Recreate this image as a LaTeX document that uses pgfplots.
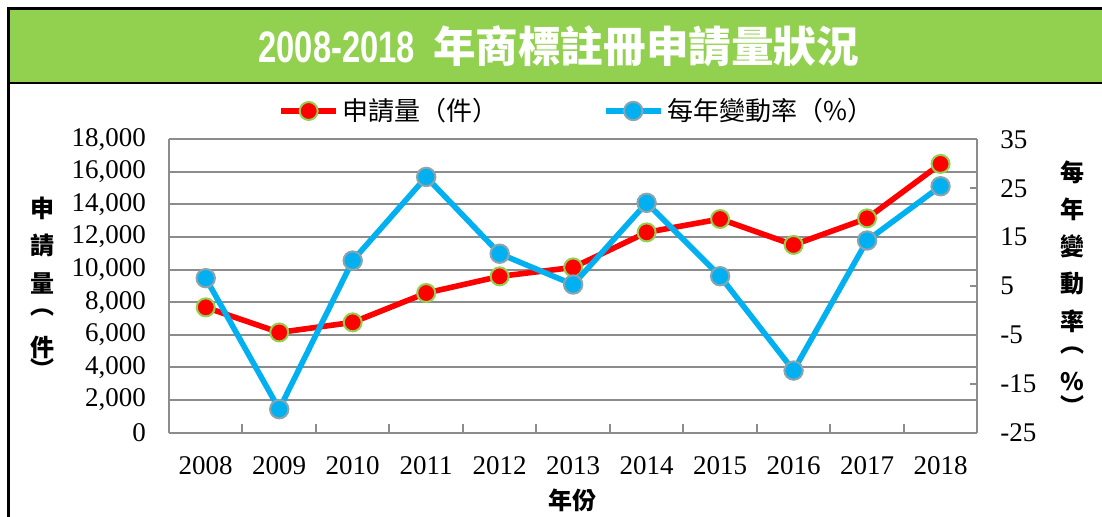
\documentclass[border=0pt]{standalone}
\usepackage{pgfplots}
\pgfplotsset{compat=1.18}
\usepackage{pgfplotstable}
\usepackage{graphicx}
\usepackage{fontspec}
\setmainfont{Liberation Serif}
\newfontfamily\cjk{Noto Sans CJK TC}
\newfontfamily\sansf{Liberation Sans}
\definecolor{titlegreen}{HTML}{92D050}
\definecolor{redline}{HTML}{FF0000}
\definecolor{blueline}{HTML}{00B0F0}
\definecolor{gridgray}{HTML}{8C8C8C}
\definecolor{bluemarkedge}{HTML}{8EA4AC}
\definecolor{redmarkedge}{HTML}{92D050}

\pgfplotstableread{
x year apps change
0 2008 7690 6.6
1 2009 6150 -20.2
2 2010 6770 10.2
3 2011 8570 27.3
4 2012 9590 11.6
5 2013 10140 5.3
6 2014 12290 22.0
7 2015 13110 7.0
8 2016 11520 -12.3
9 2017 13150 14.3
10 2018 16490 25.4
}\datatable

\pgfplotsset{
  common/.style={
    at={(84.5pt,42.15pt)}, anchor=south west,
    scale only axis, width=404.15pt, height=146.7pt,
    xmin=-0.5, xmax=10.5,
    axis line style={gridgray, line width=1pt},
    tick label style={font=\fontsize{13.5}{13.5}\selectfont, text=black},
    /pgf/number format/assume math mode=true,
    clip=false,
  },
  redstyle/.style={redline, line width=2.8pt, mark=*, mark size=4.5pt,
    mark options={fill=redline, draw=redmarkedge, line width=1pt, solid}},
  bluestyle/.style={blueline, line width=2.8pt, mark=*, mark size=4.6pt,
    mark options={fill=blueline, draw=bluemarkedge, line width=1pt, solid}},
}

\begin{document}
\begin{tikzpicture}
\path[use as bounding box] (0,0) rectangle (551pt,258.5pt);
\begin{scope}
\clip (0,0) rectangle (551pt,258.5pt);
\fill[titlegreen] (5pt,217.5pt) rectangle (551pt,253.5pt);
\draw[line width=1.5pt] (4.35pt,0) -- (4.35pt,254.9pt);
\draw[line width=1.5pt] (3.6pt,254.15pt) -- (551pt,254.15pt);
\draw[line width=1pt] (4.35pt,216.85pt) -- (551pt,216.85pt);
\end{scope}
\node[anchor=base west, inner sep=0pt, text=white, font=\fontsize{21}{21}\selectfont]
  at (129pt,227pt) {\scalebox{0.78}[1.05]{\sansf\bfseries 2008-2018}\hspace{9pt}{\cjk\bfseries\fontsize{21.3}{21.3}\selectfont 年商標註冊申請量狀況}};

\begin{axis}[common,
  ymin=0, ymax=18000, ytick={0,2000,...,18000},
  scaled y ticks=false,
  /pgf/number format/.cd, 1000 sep={,}, /pgfplots/.cd,
  xtick={0,...,10}, xticklabels={2008,2009,2010,2011,2012,2013,2014,2015,2016,2017,2018},
  axis y line*=left, axis x line*=bottom,
  ymajorgrids, grid style={gridgray, line width=1pt},
  ytick style={draw=none}, xtick style={draw=none},
  yticklabel style={xshift=-8pt},
  xticklabel style={yshift=-8.5pt},
  extra x ticks={0.5,1.5,...,9.5}, extra x tick labels={},
  extra x tick style={tick align=inside, major tick length=4.5pt,
    xtick style={draw=gridgray, line width=1pt}, grid=none},
]
\addplot[redstyle] table[x=x, y=apps] {\datatable};
\end{axis}

\begin{axis}[common,
  ymin=-25, ymax=35, ytick={-25,-15,...,35},
  axis y line*=right, axis x line=none,
  tick align=inside, major tick length=3.5pt,
  ytick style={draw=gridgray, line width=1pt},
  yticklabel style={xshift=8pt},
  legend columns=2,
  legend style={draw=none, fill=none, at={(0.1274,1.0965)}, anchor=west,
    font=\cjk\fontsize{13}{13}\selectfont,
    /tikz/every even column/.append style={column sep=50pt}},
  legend image code/.code={\draw[mark repeat=2, mark phase=2, #1] plot coordinates {(0pt,0pt) (13.75pt,0pt) (27.5pt,0pt)};},
]
\addlegendimage{redstyle}
\addlegendentry{申請量（件）}
\addplot[bluestyle] table[x=x, y=change] {\datatable};
\addlegendentry{每年變動率（\%）}
\end{axis}

\begin{scope}[every node/.style={inner sep=0pt, font=\cjk\bfseries\fontsize{12}{12}\selectfont}]
\node at (21pt,154.25pt) {申};
\node at (21pt,136pt) {請};
\node at (21pt,117pt) {量};
\node at (21pt,102pt) {︵};
\node at (21pt,85pt) {件};
\node at (21pt,74.5pt) {︶};
\node at (536.25pt,172.5pt) {每};
\node at (536.25pt,154pt) {年};
\node at (536.25pt,135.5pt) {變};
\node at (536.25pt,116.5pt) {動};
\node at (536.25pt,98pt) {率};
\node at (536.25pt,83pt) {︵};
\node at (536.25pt,67.5pt) {\%};
\node at (536.25pt,56pt) {︶};
\node at (286pt,8.5pt) {年份};
\end{scope}
\end{tikzpicture}
\end{document}
